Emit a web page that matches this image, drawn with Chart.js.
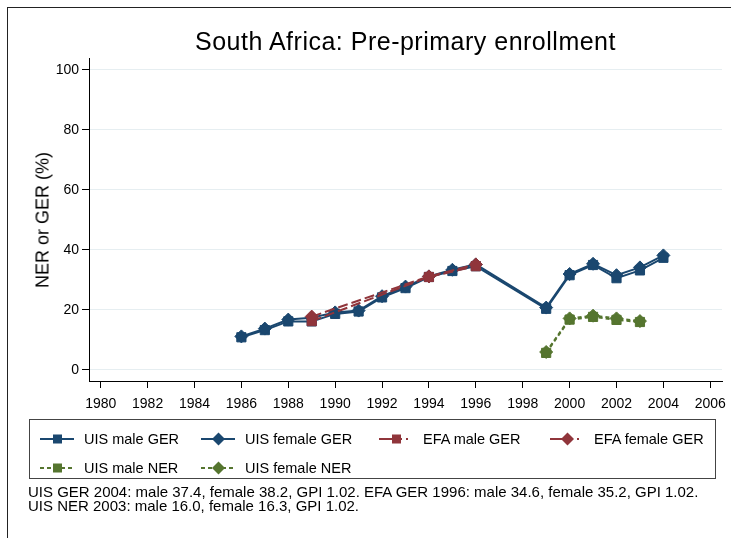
<!DOCTYPE html>
<html>
<head>
<meta charset="utf-8">
<script src="https://cdn.jsdelivr.net/npm/chart.js@4.4.1/dist/chart.umd.min.js"></script>
<style>
  html, body { margin: 0; padding: 0; background: #fff; }
  body { width: 731px; height: 538px; position: relative; overflow: hidden; font-family: "Liberation Sans", Arial, sans-serif; }
  #frame { position: absolute; left: 7px; top: 7px; width: 740px; height: 560px; border: 1px solid #222; box-sizing: border-box; }
  #c { position: absolute; left: 0; top: 0; }
  #title { position: absolute; left: 89px; width: 633px; top: 29px; text-align: center; font-size: 25px; line-height: 25px; letter-spacing: 0.5px; color: #000; white-space: nowrap; }
  #ytitle { position: absolute; left: 43px; top: 220px; transform: translate(-50%, -50%) rotate(-90deg); font-size: 18px; white-space: nowrap; color: #000; }
  #legend { position: absolute; left: 29px; top: 419px; width: 687px; height: 60px; border: 1px solid #444; box-sizing: border-box; font-size: 14.5px; color: #000; }
  .item { position: absolute; display: flex; align-items: center; white-space: nowrap; height: 18px; }
  .item svg { margin-right: 10px; }
  #notes { position: absolute; left: 28px; top: 485px; font-size: 15px; line-height: 14px; color: #000; white-space: nowrap; }
</style>
</head>
<body>
<div id="frame"></div>
<canvas id="c" width="731" height="538"></canvas>
<div id="title">South Africa: Pre-primary enrollment</div>
<div id="ytitle">NER or GER (%)</div>
<div id="legend"></div>
<div id="notes">UIS GER 2004: male 37.4, female 38.2, GPI 1.02. EFA GER 1996: male 34.6, female 35.2, GPI 1.02.<br>UIS NER 2003: male 16.0, female 16.3, GPI 1.02.</div>
<script>
// ---- data ----
const uisGerYears = [1986,1987,1988,1989,1990,1991,1992,1993,1994,1995,1996,1999,2000,2001,2002,2003,2004];
const uisMaleGer   = [10.9,13.3,16.2,16.2,18.7,19.5,24.2,27.3,31.0,33.0,34.6,20.4,31.6,35.0,30.6,33.2,37.4];
const uisFemaleGer = [11.2,13.8,16.8,17.4,19.2,19.8,24.6,27.8,31.2,33.4,35.2,20.8,32.0,35.4,31.6,34.2,38.2];
const efaYears = [1989,1994,1996];
const efaMaleGer   = [16.3,31.0,34.6];
const efaFemaleGer = [17.8,31.2,35.2];
const nerYears = [1999,2000,2001,2002,2003];
const uisMaleNer   = [5.7,16.8,17.7,16.7,16.0];
const uisFemaleNer = [6.0,17.2,18.1,17.2,16.3];
const xTickValues = [1980,1982,1984,1986,1988,1990,1992,1994,1996,1998,2000,2002,2004,2006];
const yTickValues = [0,20,40,60,80,100];
const seriesLabels = ["UIS male GER","UIS female GER","EFA male GER","EFA female GER","UIS male NER","UIS female NER"];

const navy = "#1a476f", maroon = "#90353b", green = "#55752f";
const pts = (xs, ys) => xs.map((x, i) => ({x: x, y: ys[i]}));

const styles = [
  {color: navy, dash: [], legendDash: "", shape: "rect"},
  {color: navy, dash: [], legendDash: "", shape: "rectRot"},
  {color: maroon, dash: [10,4], legendDash: "15,4,4,4,2", shape: "rect"},
  {color: maroon, dash: [10,4], legendDash: "15,4,4,4,2", shape: "rectRot"},
  {color: green, dash: [4,3], legendDash: "4,3", shape: "rect"},
  {color: green, dash: [4,3], legendDash: "4,3", shape: "rectRot"}
];
const seriesData = [
  pts(uisGerYears, uisMaleGer), pts(uisGerYears, uisFemaleGer),
  pts(efaYears, efaMaleGer), pts(efaYears, efaFemaleGer),
  pts(nerYears, uisMaleNer), pts(nerYears, uisFemaleNer)
];

const datasets = seriesData.map((d, i) => ({
  label: seriesLabels[i],
  data: d,
  order: 10 - i,
  borderColor: styles[i].color,
  backgroundColor: styles[i].color,
  borderWidth: 2,
  borderDash: styles[i].dash,
  tension: 0,
  pointStyle: styles[i].shape,
  pointRadius: 6.5,
  pointBorderWidth: 1,
  pointBackgroundColor: styles[i].color,
  pointBorderColor: styles[i].color
}));

new Chart(document.getElementById("c"), {
  type: "line",
  data: { datasets: datasets },
  options: {
    responsive: false,
    animation: false,
    layout: { padding: { left: 0, right: 9, top: 58, bottom: 0 } },
    plugins: { legend: { display: false }, tooltip: { enabled: false }, title: { display: false } },
    scales: {
      x: {
        type: "linear",
        min: 1979.5, max: 2006.5,
        afterBuildTicks: s => { s.ticks = xTickValues.map(v => ({value: v})); },
        afterFit: s => { s.height = 157; s.paddingLeft = 0; s.paddingRight = 0; },
        grid: { drawOnChartArea: false, drawTicks: true, tickLength: 7, tickColor: "#000", tickWidth: 1 },
        border: { display: true, color: "#000", width: 1 },
        ticks: { color: "#000", font: { family: "Liberation Sans", size: 14 }, padding: 8, maxRotation: 0, autoSkip: false, callback: v => String(v) }
      },
      y: {
        type: "linear",
        min: -3.67, max: 104,
        afterBuildTicks: s => { s.ticks = yTickValues.map(v => ({value: v})); },
        afterFit: s => { s.width = 89; s.paddingTop = 0; s.paddingBottom = 0; },
        grid: { color: "#e6eef1", lineWidth: 1, drawTicks: true, tickLength: 7, tickColor: "#000", tickWidth: 1 },
        border: { display: true, color: "#000", width: 1 },
        ticks: { color: "#000", font: { family: "Liberation Sans", size: 14 }, padding: 3, callback: v => String(v) }
      }
    }
  }
});

// ---- legend (HTML) ----
const legendPos = [
  {x: 10, y: 19}, {x: 171, y: 19}, {x: 349, y: 19}, {x: 520, y: 19},
  {x: 10, y: 48}, {x: 171, y: 48}
];
const legend = document.getElementById("legend");
seriesLabels.forEach((lab, i) => {
  const st = styles[i];
  const dash = st.legendDash ? `stroke-dasharray="${st.legendDash}"` : "";
  const marker = st.shape === "rect"
    ? `<rect x="13" y="4.5" width="9" height="9" fill="${st.color}"/>`
    : `<polygon points="17.5,2.5 24,9 17.5,15.5 11,9" fill="${st.color}"/>`;
  const el = document.createElement("div");
  el.className = "item";
  el.style.left = legendPos[i].x + "px";
  el.style.top = (legendPos[i].y - 9) + "px";
  el.innerHTML = `<svg width="34" height="18"><line x1="0" y1="9" x2="34" y2="9" stroke="${st.color}" stroke-width="2" ${dash}/>${marker}</svg><span>${lab}</span>`;
  legend.appendChild(el);
});
</script>
</body>
</html>
